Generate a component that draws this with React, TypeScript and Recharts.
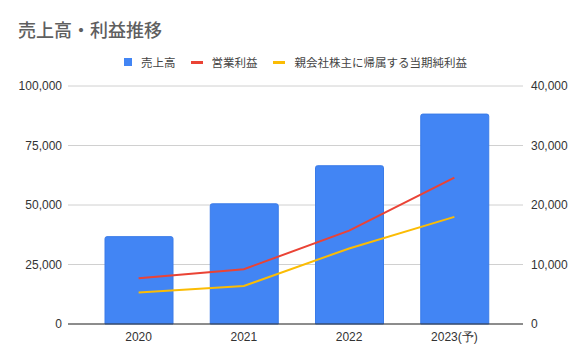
import { ComposedChart, Bar, Line, XAxis, YAxis, CartesianGrid } from 'recharts'

const years = ['2020', '2021', '2022', '2023(予)']
const sales = [36700, 50500, 66500, 88200]
const operatingProfit = [7700, 9200, 15700, 24600]
const netProfit = [5300, 6400, 12700, 18000]

const leftTicks = [0, 25000, 50000, 75000, 100000]
const rightTicks = [0, 10000, 20000, 30000, 40000]

const seriesNames = ['売上高', '営業利益', '親会社株主に帰属する当期純利益']
const colors = ['#4285f4', '#ea4335', '#fbbc04']

const data = years.map((year, i) => ({
  year,
  sales: sales[i],
  op: operatingProfit[i],
  net: netProfit[i]
}))

const fmt = (v: number) => v.toLocaleString('en-US')
const tickStyle = { fontSize: 12, fill: '#333', fontFamily: '"Liberation Sans", Arial, sans-serif' }
const cjk = '"Noto Sans CJK JP", "Noto Sans", sans-serif'

export default function App() {
  return (
    <div style={{ position: 'absolute', left: 0, top: 0, width: 586, height: 362, background: '#fff' }}>
      <div
        style={{
          position: 'absolute',
          left: 18,
          top: 17,
          fontSize: 18,
          fontFamily: cjk,
          color: '#5f5f5f',
          fontWeight: 500,
          lineHeight: '24px'
        }}
      >
        売上高・利益推移
      </div>
      <div
        style={{
          position: 'absolute',
          left: 124,
          top: 53,
          display: 'flex',
          alignItems: 'center',
          fontSize: 11.5,
          fontFamily: cjk,
          color: '#444',
          lineHeight: '18px',
          whiteSpace: 'nowrap'
        }}
      >
        <span style={{ width: 8, height: 8, background: colors[0], marginRight: 9 }} />
        <span style={{ marginRight: 15 }}>{seriesNames[0]}</span>
        <span style={{ width: 12, height: 3, background: colors[1], marginRight: 9 }} />
        <span style={{ marginRight: 15 }}>{seriesNames[1]}</span>
        <span style={{ width: 12, height: 3, background: colors[2], marginRight: 10 }} />
        <span>{seriesNames[2]}</span>
      </div>
      <ComposedChart width={586} height={362} data={data} margin={{ top: 86, right: 0, left: 0, bottom: 0 }}>
        <CartesianGrid vertical={false} stroke="#d0d0d0" yAxisId="left" />
        <XAxis
          dataKey="year"
          height={38}
          padding={{ left: 18, right: 16 }}
          tickLine={false}
          tickSize={8}
          tickMargin={0}
          axisLine={{ stroke: '#333' }}
          tick={tickStyle}
        />
        <YAxis
          yAxisId="left"
          width={68}
          domain={[0, 100000]}
          ticks={leftTicks}
          tickFormatter={fmt}
          axisLine={false}
          tickLine={false}
          tickSize={6}
          tickMargin={0}
          tick={tickStyle}
        />
        <YAxis
          yAxisId="right"
          orientation="right"
          width={63}
          domain={[0, 40000]}
          ticks={rightTicks}
          tickFormatter={fmt}
          axisLine={false}
          tickLine={false}
          tickSize={8}
          tickMargin={0}
          tick={{ ...tickStyle, textAnchor: 'start' }}
        />
        <Bar
          yAxisId="left"
          dataKey="sales"
          name={seriesNames[0]}
          fill={colors[0]}
          stroke="#3a7be8"
          strokeWidth={1}
          barSize={68}
          radius={[2, 2, 0, 0]}
          isAnimationActive={false}
        />
        <Line
          yAxisId="right"
          dataKey="op"
          name={seriesNames[1]}
          stroke={colors[1]}
          strokeWidth={2}
          dot={false}
          type="linear"
          isAnimationActive={false}
        />
        <Line
          yAxisId="right"
          dataKey="net"
          name={seriesNames[2]}
          stroke={colors[2]}
          strokeWidth={2}
          dot={false}
          type="linear"
          isAnimationActive={false}
        />
      </ComposedChart>
    </div>
  )
}
